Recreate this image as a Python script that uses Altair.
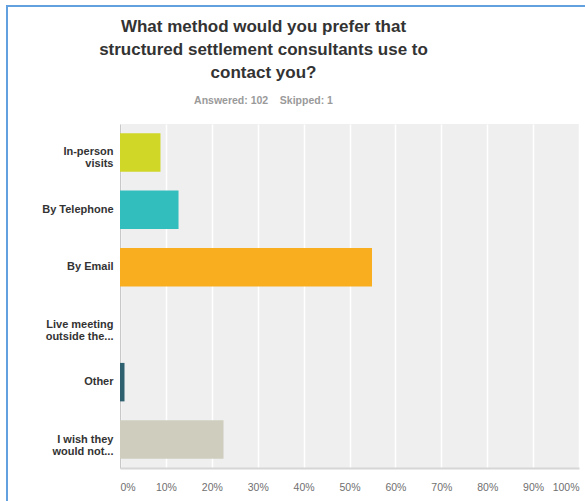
import altair as alt
import pandas as pd

categories = ["In-person|visits", "By Telephone", "By Email",
              "Live meeting|outside the...", "Other", "I wish they|would not..."]
percents = [8.82, 12.75, 54.90, 0.00, 0.98, 22.55]
colors = ["#D0D727", "#33BEBE", "#F8AE1F", "#F05B4F", "#2E6070", "#CFCEBE"]
x_ticks = [0, 10, 20, 30, 40, 50, 60, 70, 80, 90, 100]

df = pd.DataFrame({"category": categories, "percent": percents})

FONT = "Liberation Sans"
W, H = 459, 344
PL, PT = 120, 124

bars = alt.Chart(df).mark_bar().encode(
    y=alt.Y("category:N", sort=categories, title=None,
            scale=alt.Scale(paddingInner=0.33, paddingOuter=0.16),
            axis=alt.Axis(labelExpr="split(datum.label, '|')", ticks=False,
                          labelFont=FONT, labelFontSize=11, labelFontWeight="bold",
                          labelColor="#333333", labelLineHeight=12, labelPadding=7,
                          domainColor="#c8c8c8", domainWidth=1, grid=False,
                          labelLimit=200)),
    x=alt.X("percent:Q", title=None,
            scale=alt.Scale(domain=[0, 100], nice=False),
            axis=alt.Axis(values=x_ticks, labelExpr="datum.value + '%'", ticks=False,
                          labelFont=FONT, labelFontSize=10.5, labelColor="#6f6f6f",
                          labelPadding=14, domainColor="#d6d6d6", domainWidth=2,
                          gridColor="#ffffff", gridWidth=1.5)),
    color=alt.Color("category:N", sort=categories,
                    scale=alt.Scale(domain=categories, range=colors), legend=None),
)

one = pd.DataFrame({"a": [0]})
left_border = alt.Chart(one).mark_rule(color="#62A0E0", strokeWidth=2).encode(
    x=alt.value(7 - PL), y=alt.value(5 - PT), y2=alt.value(501 - PT))
top_border = alt.Chart(one).mark_rule(color="#62A0E0", strokeWidth=2).encode(
    x=alt.value(6 - PL), x2=alt.value(585 - PL), y=alt.value(6 - PT))

chart = alt.layer(bars, left_border, top_border).properties(
    width=W, height=H,
    autosize=alt.AutoSizeParams(type="none"),
    padding={"left": PL, "top": PT, "right": 6, "bottom": 33},
    background="white",
    title=alt.TitleParams(
        text=["What method would you prefer that",
              "structured settlement consultants use to",
              "contact you?"],
        subtitle="Answered: 102\u00a0\u00a0\u00a0\u00a0Skipped: 1",
        font=FONT, fontSize=17, fontWeight="bold", color="#333333", lineHeight=23,
        subtitleFont=FONT, subtitleFontSize=10.5, subtitleFontWeight="bold",
        subtitleColor="#9a9a9a", subtitlePadding=14,
        anchor="middle", frame="group", dx=-86, dy=103, offset=0),
).configure_view(stroke=None, fill="#EFEFEF")

chart.save("out.html", embed_options={"renderer": "svg", "actions": False})
